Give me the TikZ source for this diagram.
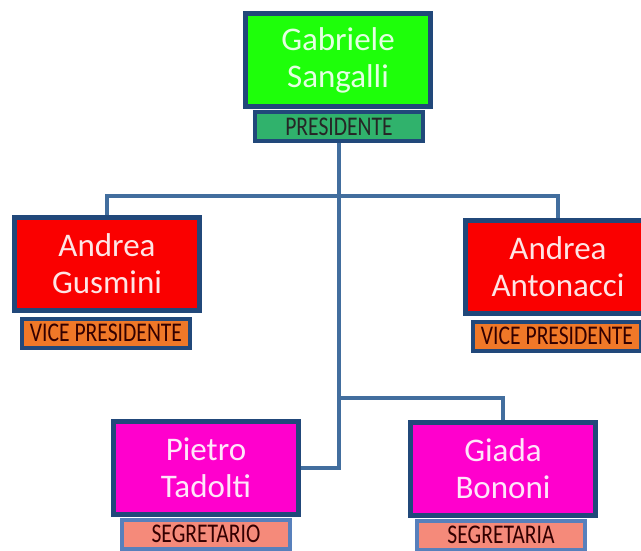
\documentclass[tikz,border=0pt]{standalone}
\usepackage{fontspec}
\setmainfont{Carlito}
\newfontfamily\barfont[FakeStretch=0.8]{Carlito}
\definecolor{boxline}{RGB}{33,72,122}
\definecolor{linkblue}{RGB}{66,110,158}
\definecolor{lightline}{RGB}{88,128,188}
\definecolor{presgreen}{RGB}{30,255,10}
\definecolor{presbar}{RGB}{48,178,108}
\definecolor{vpred}{RGB}{250,0,0}
\definecolor{vpbar}{RGB}{240,120,40}
\definecolor{segpink}{RGB}{255,0,205}
\definecolor{segbar}{RGB}{245,138,122}
\tikzset{
  namebox/.style={draw=boxline, line width=5pt, minimum width=185pt, minimum height=93pt,
    inner sep=0pt, align=center, font=\fontsize{33}{37}\selectfont},
  rolebar/.style={draw=boxline, line width=4pt, minimum width=168pt, minimum height=29pt,
    inner sep=0pt, font=\barfont\fontsize{27}{28}\selectfont, text=black!80!red},
  link/.style={draw=linkblue, line width=4.5pt},
}

\begin{document}
\begin{tikzpicture}[x=1pt, y=-1pt]
  %%%%% START %%%%%
  \useasboundingbox (0,0) rectangle (641,551);

  \coordinate (split) at (339,196);
  \coordinate (fork) at (339,398);

  \node[rolebar, fill=presbar, text=black!85] (gabl) at (339,127) {PRESIDENTE};
  \node[namebox, fill=presgreen, text=presgreen!12!white] (gab) at (338,60) {Gabriele\\Sangalli};

  \node[rolebar, fill=vpbar] (gusl) at (106,333) {VICE PRESIDENTE};
  \node[namebox, fill=vpred, text=vpred!10!white] (gus) at (107,264) {Andrea\\Gusmini};

  \node[rolebar, fill=vpbar] (antl) at (557,336) {VICE PRESIDENTE};
  \node[namebox, fill=vpred, text=vpred!10!white] (ant) at (558,267) {Andrea\\Antonacci};

  \node[rolebar, draw=lightline, fill=segbar] (piel) at (206,534) {SEGRETARIO};
  \node[namebox, fill=segpink, text=segpink!10!white] (pie) at (206,468) {Pietro\\Tadolti};

  \node[rolebar, draw=lightline, fill=segbar] (gial) at (501,535) {SEGRETARIA};
  \node[namebox, fill=segpink, text=segpink!10!white] (gia) at (503,469) {Giada\\Bononi};

  % connectors
  \draw[link] (gabl.south) -- (split) -- (fork) |- (pie.east);
  \draw[link] (split) -| (gus.north);
  \draw[link] (split) -| (ant.north);
  \draw[link] (fork) -| (gia.north);
  %%%%% END %%%%%
\end{tikzpicture}
\end{document}
